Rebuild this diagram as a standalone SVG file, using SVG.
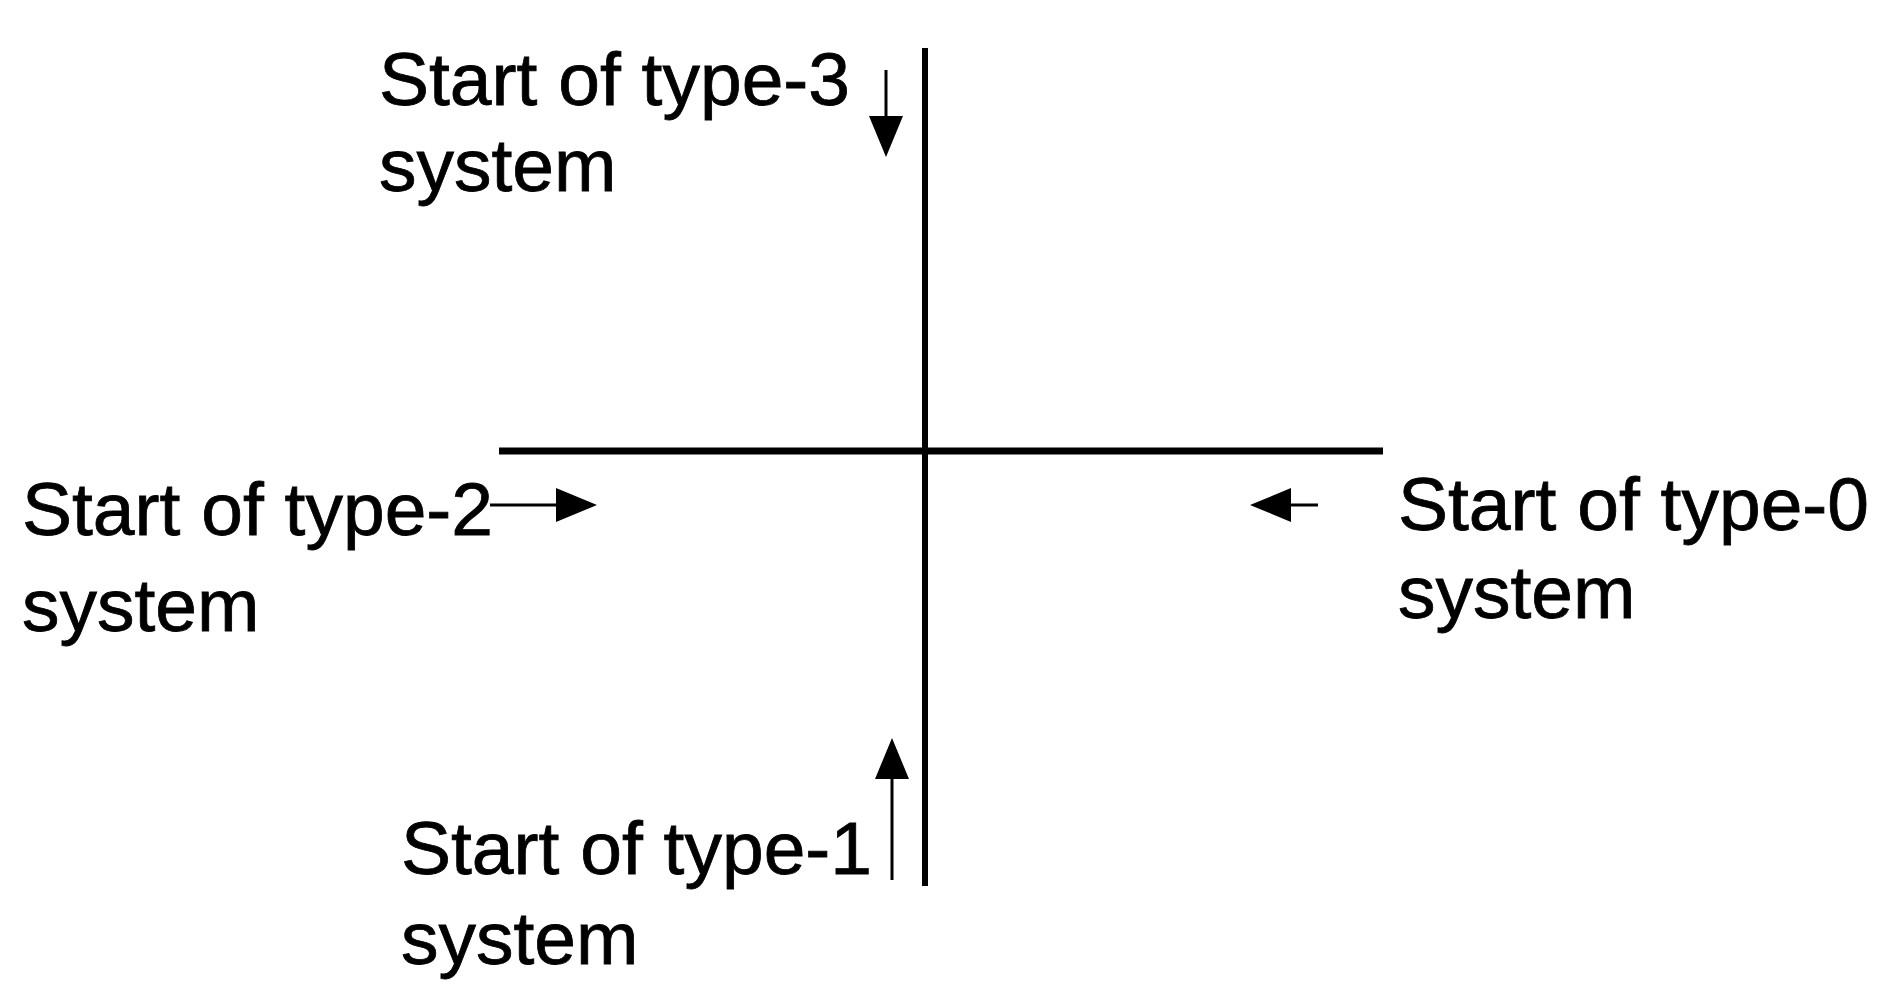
<svg xmlns="http://www.w3.org/2000/svg" width="1877" height="988" viewBox="0 0 1877 988">
<defs>
<style>
.lbl{font-family:"Liberation Sans",Arial,sans-serif;font-size:75px;fill:#000;stroke:#000;stroke-width:0.8}
.axis{stroke:#000;fill:none}
.arr{stroke:#000;stroke-width:3;fill:none}
.head{fill:#000}
</style>
</defs>
<rect width="1877" height="988" fill="#fff"/>
<g id="axes">
<line class="axis" x1="925" y1="48" x2="925" y2="886" stroke-width="6"/>
<line class="axis" x1="499" y1="451" x2="1383" y2="451" stroke-width="7"/>
</g>
<g id="connectors">
<path class="arr" d="M886,70 L886,125"/>
<path class="head" d="M869,116 L903,116 L886,157 Z"/>
<path class="arr" d="M490,505 L565,505"/>
<path class="head" d="M556,488 L556,522 L597,505 Z"/>
<path class="arr" d="M1318,505 L1280,505"/>
<path class="head" d="M1291,488 L1291,522 L1250,505 Z"/>
<path class="arr" d="M892,880 L892,770"/>
<path class="head" d="M875,779 L909,779 L892,738 Z"/>
</g>
<g id="type3">
<text class="lbl" x="379" y="105">Start of type-3</text>
<text class="lbl" x="379" y="191">system</text>
</g>
<g id="type2">
<text class="lbl" x="22" y="535">Start of type-2</text>
<text class="lbl" x="22" y="631">system</text>
</g>
<g id="type0">
<text class="lbl" x="1398" y="530">Start of type-0</text>
<text class="lbl" x="1398" y="618">system</text>
</g>
<g id="type1">
<text class="lbl" x="401" y="874">Start of type-1</text>
<text class="lbl" x="401" y="964">system</text>
</g>
</svg>
